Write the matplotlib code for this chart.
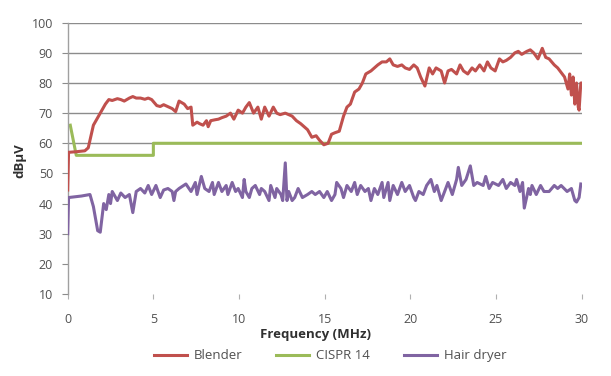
import numpy as np
import matplotlib
matplotlib.use("Agg")
import matplotlib.pyplot as plt

# values
blender_f = [0.0, 0.05, 0.5, 1.0, 1.2, 1.5, 1.8, 2.0, 2.2, 2.4, 2.6, 2.9, 3.1, 3.3, 3.6, 3.8,
             4.0, 4.25, 4.5, 4.7, 4.9, 5.2, 5.4, 5.6, 5.9, 6.1, 6.3, 6.5, 6.8, 7.0, 7.2, 7.3,
             7.55, 7.7, 7.9, 8.1, 8.2, 8.35, 8.6, 8.8, 9.0, 9.25, 9.5, 9.7, 9.95, 10.2, 10.4,
             10.6, 10.85, 11.1, 11.3, 11.5, 11.75, 12.0, 12.2, 12.4, 12.7, 12.9, 13.1, 13.35,
             13.6, 13.8, 14.0, 14.25, 14.5, 14.7, 14.95, 15.2, 15.4, 15.6, 15.85, 16.1, 16.3,
             16.5, 16.75, 17.0, 17.2, 17.4, 17.7, 17.9, 18.1, 18.35, 18.6, 18.8, 19.0, 19.25,
             19.5, 19.7, 19.95, 20.2, 20.4, 20.6, 20.85, 21.1, 21.3, 21.5, 21.8, 22.0, 22.2,
             22.4, 22.7, 22.9, 23.1, 23.35, 23.6, 23.8, 24.05, 24.3, 24.5, 24.7, 24.95, 25.2,
             25.4, 25.6, 25.85, 26.1, 26.3, 26.5, 26.8, 27.0, 27.2, 27.45, 27.7, 27.9, 28.1,
             28.4, 28.6, 28.8, 29.0, 29.2, 29.3, 29.4, 29.5, 29.6, 29.7, 29.8, 29.85, 29.95, 30.0]
blender_db = [44.5, 57, 57.2, 57.5, 58.5, 66, 69, 71, 73, 74.5, 74.2, 74.8, 74.5, 74, 75, 75.5,
              75, 75, 74.6, 75, 74.5, 72.5, 72.2, 72.8, 72, 71.5, 70.5, 74, 73, 71.5, 72, 66,
              67, 66.5, 66, 67.5, 65.5, 67.5, 67.8, 68, 68.5, 69, 70, 68, 71, 70, 72,
              73.5, 70, 72, 68, 72, 69, 72, 70, 69.5, 70, 69.5, 69, 67.5,
              66.5, 65.5, 64.5, 62, 62.5, 61, 59.5, 60, 63, 63.5, 64, 69, 72,
              73, 77, 78, 80, 83, 84, 85, 86, 87, 87, 88, 86, 85.5,
              86, 85, 84.5, 86, 85, 82, 79, 85, 83, 85, 84, 80, 84,
              84.5, 83, 86, 84, 83, 85, 84, 86, 84, 87, 85, 84, 88,
              87, 87.5, 88.5, 90, 90.5, 89.5, 90.5, 91, 90, 88, 91.5, 88.5, 88,
              86, 85, 83.5, 82, 78, 83, 76, 82, 73, 80, 72, 71, 80, 80]

cispr_f = [0.15, 0.5, 5.0, 5.0, 30.0]
cispr_db = [66, 56, 56, 60, 60]

dryer_f = [0.0, 0.05, 0.8, 1.3, 1.5, 1.75, 1.9, 2.1, 2.25, 2.4, 2.5, 2.6, 2.9, 3.1, 3.35, 3.6,
           3.8, 4.0, 4.25, 4.5, 4.7, 4.9, 5.15, 5.4, 5.6, 5.85, 6.1, 6.2, 6.3, 6.5, 6.9, 7.2,
           7.45, 7.55, 7.8, 8.0, 8.25, 8.45, 8.55, 8.8, 9.0, 9.25, 9.35, 9.6, 9.8, 9.95, 10.2,
           10.3, 10.4, 10.6, 10.75, 10.95, 11.2, 11.3, 11.5, 11.75, 11.85, 12.1, 12.2, 12.45,
           12.55, 12.7, 12.8, 12.9, 13.1, 13.25, 13.45, 13.7, 14.0, 14.25, 14.45, 14.7, 14.95,
           15.15, 15.4, 15.6, 15.7, 15.95, 16.1, 16.3, 16.55, 16.75, 16.9, 17.1, 17.35, 17.55,
           17.7, 17.9, 18.1, 18.35, 18.45, 18.7, 18.8, 19.0, 19.25, 19.5, 19.7, 19.95, 20.2,
           20.3, 20.5, 20.75, 20.95, 21.2, 21.4, 21.55, 21.8, 22.0, 22.2, 22.45, 22.7, 22.8,
           23.0, 23.25, 23.5, 23.7, 23.9, 24.25, 24.4, 24.6, 24.8, 25.15, 25.4, 25.6, 25.85,
           26.1, 26.2, 26.4, 26.55, 26.65, 26.9, 27.0, 27.1, 27.35, 27.6, 27.8, 28.1, 28.4,
           28.6, 28.8, 29.15, 29.4, 29.6, 29.7, 29.85, 29.95]
dryer_db = [30, 42, 42.5, 43, 39, 31, 30.5, 40, 38, 43, 40, 44, 41, 43.5, 42, 43,
            37, 44, 45, 43.5, 46, 43, 46, 42, 44.5, 45, 44, 41, 44, 45, 46.5, 44,
            47, 43, 49, 45, 44, 47, 43, 47, 44, 46, 43, 47, 44, 45, 42,
            48, 44, 42, 45, 46, 43, 45, 44, 41, 46, 42, 45, 43,
            41, 53.5, 41, 44, 41, 42, 45, 42, 43, 44, 43, 44, 42,
            44, 41, 43, 47, 45, 42, 46, 44, 47, 43, 46, 44, 45,
            41, 45, 43, 47, 42, 47, 41, 46, 43, 47, 44, 46, 42,
            41, 44, 43, 46, 48, 44, 46, 41, 44, 47, 43, 48, 52,
            46, 48, 52.5, 46, 47, 46, 49, 45, 47, 46, 48, 45, 47,
            46, 48, 44, 47, 38.5, 45, 43, 46, 43, 46, 44, 44, 46,
            45, 46, 44, 45, 41, 40.5, 42, 46.5]

series_names = ["Blender", "CISPR 14", "Hair dryer"]
colors = ["#C0504D", "#9BBB59", "#8064A2"]

plt.rcParams['font.family'] = ['Open Sans', 'DejaVu Sans']

fig = plt.figure(figsize=(6.11, 3.76), dpi=100)
ax = fig.add_axes([0.1108, 0.2181, 0.8412, 0.7215])

ax.plot(blender_f, blender_db, color=colors[0], lw=2.2, label=series_names[0], zorder=3)
ax.plot(cispr_f, cispr_db, color=colors[1], lw=2.2, label=series_names[1], zorder=2)
ax.plot(dryer_f, dryer_db, color=colors[2], lw=2.2, label=series_names[2], zorder=3)

ax.set_xlim(0, 30)
ax.set_ylim(10, 100)
ax.set_xticks(range(0, 31, 5))
ax.set_yticks(range(10, 101, 10))
for y in range(60, 101, 10):
    ax.axhline(y, color="#8c8c8c", lw=1.0, zorder=1)

for s in ["top", "right", "bottom"]:
    ax.spines[s].set_visible(False)
ax.spines["left"].set_color("#a0a0a0")
ax.spines["left"].set_linewidth(1.0)
ax.tick_params(axis="y", length=4.5, color="#8c8c8c", labelsize=9, labelcolor="#505050", pad=6)
ax.tick_params(axis="x", length=3.5, color="#b0b0b0", labelsize=9, labelcolor="#505050",
               direction="out", pad=10)

ax.set_xlabel("Frequency (MHz)", fontsize=9.5, fontweight="bold", color="#303030", va="center")
ax.xaxis.set_label_coords(0.483, -0.151)
ax.set_ylabel("dBµV", fontsize=9.5, fontweight="bold", color="#303030", va="center")
ax.yaxis.set_label_coords(-0.094, 0.49)

fig.legend(loc="center", bbox_to_anchor=(0.540, 0.054), ncol=3, frameon=False,
           fontsize=9.5, handlelength=2.5, handletextpad=0.5, columnspacing=2.6,
           labelcolor="#505050")

fig.savefig("out.png", dpi=100)
